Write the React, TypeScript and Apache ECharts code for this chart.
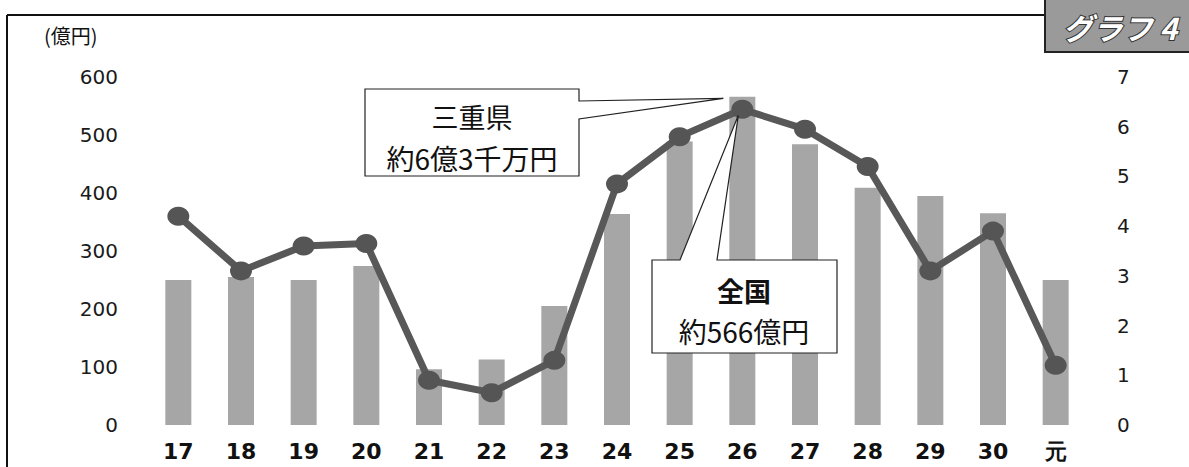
import React, { useEffect, useRef } from "react";
import * as echarts from "echarts";

const categories = ["17", "18", "19", "20", "21", "22", "23", "24", "25", "26", "27", "28", "29", "30", "元"];
const nationalValues = [250, 255, 250, 274, 96, 113, 205, 364, 489, 566, 484, 409, 395, 365, 250];
const mieValues = [4.2, 3.1, 3.6, 3.65, 0.9, 0.65, 1.3, 4.85, 5.8, 6.35, 5.95, 5.2, 3.1, 3.9, 1.2];
const leftTicks = [0, 100, 200, 300, 400, 500, 600];
const rightTicks = [0, 1, 2, 3, 4, 5, 6, 7];
const unitLabel = "(億円)";
const badgeLabel = "グラフ 4";
const mieLines = ["三重県", "約6億3千万円"];
const nationalLines = ["全国", "約566億円"];
const peakIndex = 9;

const CJK = '"Noto Sans CJK JP", "Noto Sans", sans-serif';
const NUM = '"DejaVu Sans", sans-serif';

export default function App() {
  const ref = useRef<HTMLDivElement>(null);
  useEffect(() => {
    document.body.style.margin = "0";
    if (!ref.current) return;
    const chart = echarts.init(ref.current, undefined, { renderer: "svg" });
    chart.setOption({
      animation: false,
      backgroundColor: "#ffffff",
      grid: { left: 147, right: 102, top: 77, bottom: 42, containLabel: false },
      xAxis: {
        type: "category",
        data: categories,
        axisLine: { show: false },
        axisTick: { show: false },
        axisLabel: {
          margin: 15,
          fontSize: 22,
          fontWeight: "bold",
          fontFamily: NUM,
          color: "#111",
        },
      },
      yAxis: [
        {
          type: "value",
          min: leftTicks[0],
          max: leftTicks[leftTicks.length - 1],
          interval: 100,
          splitLine: { show: false },
          axisLine: { show: false },
          axisTick: { show: false },
          axisLabel: { margin: 29, fontSize: 20, fontFamily: NUM, color: "#1a1a1a" },
        },
        {
          type: "value",
          min: rightTicks[0],
          max: rightTicks[rightTicks.length - 1],
          interval: 1,
          position: "right",
          splitLine: { show: false },
          axisLine: { show: false },
          axisTick: { show: false },
          axisLabel: { margin: 30, fontSize: 20, fontFamily: NUM, color: "#1a1a1a" },
        },
      ],
      series: [
        {
          type: "bar",
          data: nationalValues,
          yAxisIndex: 0,
          barWidth: 26,
          itemStyle: { color: "#a6a6a6" },
          z: 1,
        },
        {
          type: "line",
          data: mieValues,
          yAxisIndex: 1,
          symbol: "circle",
          symbolSize: [22, 19],
          lineStyle: { color: "#585858", width: 7 },
          itemStyle: { color: "#555555" },
          z: 3,
        },
      ],
    });

    const mieTip = chart.convertToPixel({ xAxisIndex: 0, yAxisIndex: 1 }, [peakIndex, mieValues[peakIndex]]) as number[];
    const tip1 = [mieTip[0] - 19, mieTip[1] - 11];
    const tip2 = [mieTip[0] - 4, mieTip[1] + 6];

    chart.setOption({
      graphic: [
        { type: "line", z: 100, shape: { x1: 7, y1: 15, x2: 1045, y2: 15 }, style: { stroke: "#111", lineWidth: 2 } },
        { type: "line", z: 100, shape: { x1: 7, y1: 15, x2: 7, y2: 467 }, style: { stroke: "#111", lineWidth: 2 } },
        { type: "rect", z: 100, shape: { x: 1045, y: -2, width: 150, height: 54 }, style: { fill: "#9a9a9a", stroke: "#222", lineWidth: 2 } },
        {
          type: "text", z: 101, x: 1120, y: 27,
          style: {
            text: badgeLabel, fill: "#ffffff", stroke: "#333", lineWidth: 2,
            font: `italic bold 30px ${CJK}`, align: "center", verticalAlign: "middle",
          },
        },
        {
          type: "text", z: 100, x: 44, y: 35,
          style: { text: unitLabel, fill: "#111", font: `20px ${CJK}`, align: "left", verticalAlign: "middle" },
        },
        {
          type: "polygon", z: 100,
          shape: { points: [[365, 89], [579, 89], [579, 101], tip1, [579, 119], [579, 176], [365, 176]] },
          style: { fill: "#ffffff", stroke: "#222", lineWidth: 1.2 },
        },
        {
          type: "text", z: 101, x: 472, y: 116,
          style: { text: mieLines[0], fill: "#111", font: `27px ${CJK}`, align: "center", verticalAlign: "middle" },
        },
        {
          type: "text", z: 101, x: 472, y: 158,
          style: { text: mieLines[1], fill: "#111", font: `28px ${CJK}`, align: "center", verticalAlign: "middle" },
        },
        {
          type: "polygon", z: 100,
          shape: { points: [[652, 260], [680, 260], tip2, [717, 260], [837, 260], [837, 353], [652, 353]] },
          style: { fill: "#ffffff", stroke: "#222", lineWidth: 1.2 },
        },
        {
          type: "text", z: 101, x: 744, y: 290,
          style: { text: nationalLines[0], fill: "#111", font: `bold 27px ${CJK}`, align: "center", verticalAlign: "middle" },
        },
        {
          type: "text", z: 101, x: 744, y: 331,
          style: { text: nationalLines[1], fill: "#111", font: `28px ${CJK}`, align: "center", verticalAlign: "middle" },
        },
      ],
    });
    return () => chart.dispose();
  }, []);
  return <div ref={ref} style={{ width: 1189, height: 467 }} />;
}
